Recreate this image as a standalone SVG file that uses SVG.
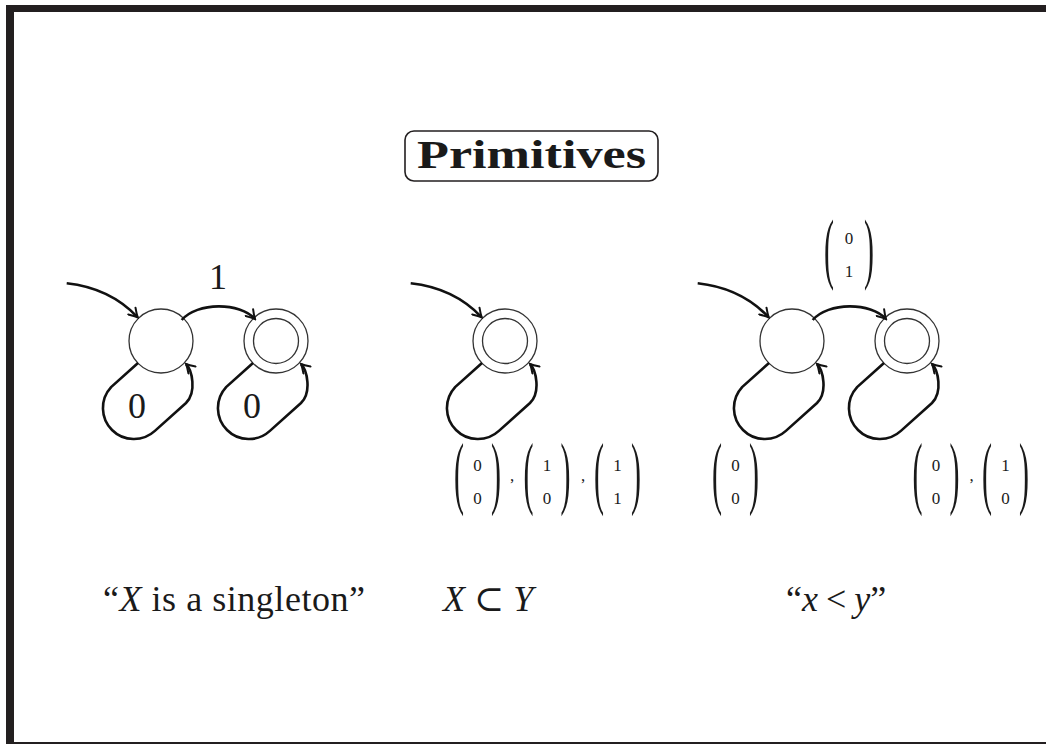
<svg xmlns="http://www.w3.org/2000/svg" width="1046" height="744" viewBox="0 0 1046 744">
<style>
.st{fill:none;stroke:#333;stroke-width:1.3}
.ed{fill:none;stroke:#111;stroke-width:2.6;marker-end:url(#arr)}
.t{font-family:"Liberation Serif","Times New Roman",serif;fill:#1a1a1a}
.lab{font-size:36px;text-anchor:middle}
.dg{font-size:17px;text-anchor:middle}
.pr{font-size:30px;text-anchor:middle}
.it{font-style:italic}
.cap{font-size:36px}
</style>
<defs>
<marker id="arr" viewBox="-10 -6 12 12" markerWidth="12" markerHeight="12" refX="0" refY="0" orient="auto" markerUnits="userSpaceOnUse">
<path d="M-8.5,-5 Q-3,-1.3 0,0 Q-3,1.3 -8.5,5" fill="none" stroke="#111" stroke-width="2" stroke-linecap="round"/>
</marker>
</defs>
<rect width="1046" height="744" fill="#fff"/>
<g id="frame" fill="#231f20">
<rect x="6" y="5" width="1040" height="7"/>
<rect x="6" y="5" width="8" height="739"/>
<rect x="6" y="742" width="1040" height="2"/>
</g>
<g id="title">
<rect x="405" y="131" width="253" height="50" rx="9" fill="none" stroke="#231f20" stroke-width="1.6"/>
<text class="t" x="417" y="168" font-size="41" font-weight="bold" textLength="229" lengthAdjust="spacingAndGlyphs">Primitives</text>
</g>
<g id="a1q0"><circle class="st" cx="161" cy="341" r="32"/></g>
<g id="a1q1"><circle class="st" cx="276" cy="341" r="32"/><circle class="st" cx="276" cy="341" r="22.5"/></g>
<g id="a2q0"><circle class="st" cx="505" cy="341" r="32"/><circle class="st" cx="505" cy="341" r="22.5"/></g>
<g id="a3q0"><circle class="st" cx="792" cy="341" r="32"/></g>
<g id="a3q1"><circle class="st" cx="907" cy="341" r="32"/><circle class="st" cx="907" cy="341" r="22.5"/></g>
<g id="connectors">
<path class="ed" transform="translate(161,341)" d="M-94.3,-57.7 Q-51,-53 -23.3,-23.7"/>
<path class="ed" transform="translate(161,341)" d="M20.7,-21 C36,-39 79,-39 94,-22"/>
<path class="ed" transform="translate(161,341)" d="M-23,22 L-49.9,46.1 A31 31 0 0 0 -6.1,89.9 L25,62 C36,51 31,29 25,23"/>
<path class="ed" transform="translate(276,341)" d="M-23,22 L-49.9,46.1 A31 31 0 0 0 -6.1,89.9 L25,62 C36,51 31,29 25,23"/>
<path class="ed" transform="translate(505,341)" d="M-94.3,-57.7 Q-51,-53 -23.3,-23.7"/>
<path class="ed" transform="translate(505,341)" d="M-23,22 L-49.9,46.1 A31 31 0 0 0 -6.1,89.9 L25,62 C36,51 31,29 25,23"/>
<path class="ed" transform="translate(792,341)" d="M-94.3,-57.7 Q-51,-53 -23.3,-23.7"/>
<path class="ed" transform="translate(792,341)" d="M20.7,-21 C36,-39 79,-39 94,-22"/>
<path class="ed" transform="translate(792,341)" d="M-23,22 L-49.9,46.1 A31 31 0 0 0 -6.1,89.9 L25,62 C36,51 31,29 25,23"/>
<path class="ed" transform="translate(907,341)" d="M-23,22 L-49.9,46.1 A31 31 0 0 0 -6.1,89.9 L25,62 C36,51 31,29 25,23"/>
</g>
<g id="labels1">
<text class="t lab" x="218" y="289">1</text>
<text class="t lab" x="137" y="418">0</text>
<text class="t lab" x="252" y="418">0</text>
</g>
<g id="vec-top">
<text class="t pr" transform="translate(829,274.3) scale(1,2.58)">(</text>
<text class="t pr" transform="translate(869,274.3) scale(1,2.58)">)</text>
<text class="t dg" x="849" y="244">0</text>
<text class="t dg" x="849" y="277.3">1</text>
</g>
<g id="vec-mid">
<text class="t pr" transform="translate(459,498.9) scale(1,2.66)">(</text>
<text class="t pr" transform="translate(496,498.9) scale(1,2.66)">)</text>
<text class="t dg" x="477.5" y="471">0</text>
<text class="t dg" x="477.5" y="504">0</text>
<text class="t dg" x="512" y="481">,</text>
<text class="t pr" transform="translate(528.5,498.9) scale(1,2.66)">(</text>
<text class="t pr" transform="translate(565.5,498.9) scale(1,2.66)">)</text>
<text class="t dg" x="547" y="471">1</text>
<text class="t dg" x="547" y="504">0</text>
<text class="t dg" x="583" y="481">,</text>
<text class="t pr" transform="translate(599,498.9) scale(1,2.66)">(</text>
<text class="t pr" transform="translate(636,498.9) scale(1,2.66)">)</text>
<text class="t dg" x="617.5" y="471">1</text>
<text class="t dg" x="617.5" y="504">1</text>
</g>
<g id="vec-right">
<text class="t pr" transform="translate(717,498.9) scale(1,2.66)">(</text>
<text class="t pr" transform="translate(754,498.9) scale(1,2.66)">)</text>
<text class="t dg" x="735.5" y="471">0</text>
<text class="t dg" x="735.5" y="504">0</text>
<text class="t pr" transform="translate(917.5,498.9) scale(1,2.66)">(</text>
<text class="t pr" transform="translate(954.5,498.9) scale(1,2.66)">)</text>
<text class="t dg" x="936" y="471">0</text>
<text class="t dg" x="936" y="504">0</text>
<text class="t dg" x="971.5" y="481">,</text>
<text class="t pr" transform="translate(987,498.9) scale(1,2.66)">(</text>
<text class="t pr" transform="translate(1024,498.9) scale(1,2.66)">)</text>
<text class="t dg" x="1005.5" y="471">1</text>
<text class="t dg" x="1005.5" y="504">0</text>
</g>
<g id="captions">
<text class="t cap" x="103" y="611" textLength="262">“<tspan class="it">X</tspan> is a singleton”</text>
<text class="t cap" x="443" y="611"><tspan class="it">X</tspan><tspan dx="9" font-family="DejaVu Serif">⊂</tspan><tspan dx="9" class="it">Y</tspan></text>
<text class="t cap" x="786" y="611">“<tspan class="it">x</tspan><tspan dx="8">&lt;</tspan><tspan dx="8" class="it">y</tspan>”</text>
</g>
</svg>
